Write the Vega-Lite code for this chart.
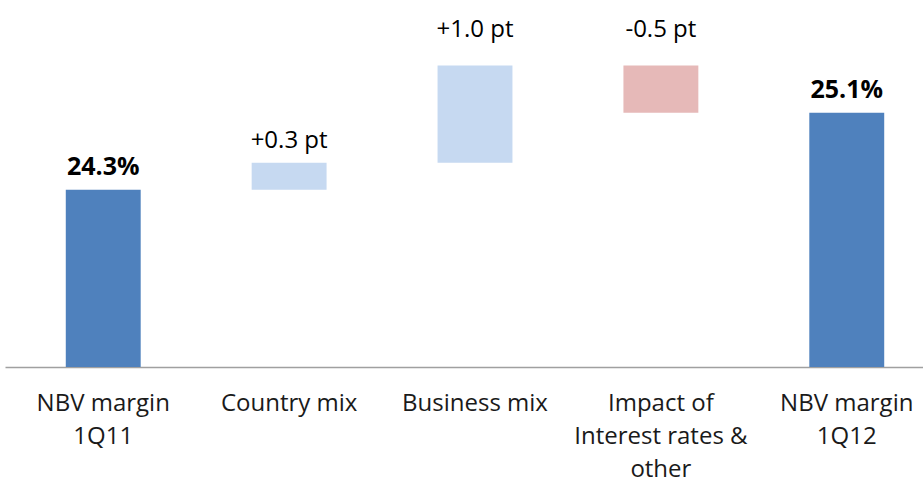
{
  "$schema": "https://vega.github.io/schema/vega-lite/v6.json",
  "autosize": {"type": "none"},
  "width": 923,
  "height": 367,
  "padding": {"left": 0, "top": 0, "right": 0, "bottom": 113},
  "background": "white",
  "config": {"view": {"stroke": null}, "font": "Open Sans"},
  "data": {
    "values": [
      {"step": "NBV margin 1Q11", "start": null, "end": 24.3, "kind": "total", "label": "24.3%"},
      {"step": "Country mix", "start": 24.3, "end": 24.58, "kind": "up", "label": "+0.3 pt"},
      {"step": "Business mix", "start": 24.58, "end": 25.59, "kind": "up", "label": "+1.0 pt"},
      {"step": "Impact of Interest rates & other", "start": 25.59, "end": 25.1, "kind": "down", "label": "-0.5 pt"},
      {"step": "NBV margin 1Q12", "start": null, "end": 25.1, "kind": "total", "label": "25.1%"}
    ]
  },
  "encoding": {
    "x": {
      "field": "step",
      "type": "nominal",
      "sort": ["NBV margin 1Q11", "Country mix", "Business mix", "Impact of Interest rates & other", "NBV margin 1Q12"],
      "scale": {"range": [5, 945], "paddingInner": 0.597, "paddingOuter": 0.327},
      "axis": {
        "title": null,
        "labelAngle": 0,
        "ticks": false,
        "domainColor": "#A0A0A0",
        "domainWidth": 1.5,
        "labelFontSize": 24,
        "labelColor": "#1a1a1a",
        "labelPadding": 24,
        "labelLineHeight": 33,
        "labelBaseline": "top",
        "labelLimit": 300,
        "labelExpr": "datum.value == 'NBV margin 1Q11' ? ['NBV margin', '1Q11'] : datum.value == 'NBV margin 1Q12' ? ['NBV margin', '1Q12'] : datum.value == 'Impact of Interest rates & other' ? ['Impact of', 'Interest rates &', 'other'] : datum.value"
      }
    }
  },
  "layer": [
    {
      "transform": [{"filter": "datum.kind == 'total'"}],
      "mark": {"type": "bar", "clip": true, "color": "#4F81BD"},
      "encoding": {
        "y": {"field": "end", "type": "quantitative", "scale": {"domain": [22.46, 26.27], "zero": false, "nice": false}, "axis": null}
      }
    },
    {
      "transform": [{"filter": "datum.kind != 'total'"}],
      "mark": {"type": "bar", "clip": true},
      "encoding": {
        "y": {"field": "start", "type": "quantitative", "scale": {"domain": [22.46, 26.27], "zero": false, "nice": false}, "axis": null},
        "y2": {"field": "end"},
        "color": {"field": "kind", "type": "nominal", "scale": {"domain": ["up", "down"], "range": ["#C6D9F1", "#E6B9B8"]}, "legend": null}
      }
    },
    {
      "transform": [{"filter": "datum.kind == 'total'"}],
      "mark": {"type": "text", "fontSize": 25, "fontWeight": "bold", "baseline": "alphabetic", "dy": -15, "color": "#000000"},
      "encoding": {
        "y": {"field": "end", "type": "quantitative"},
        "text": {"field": "label"}
      }
    },
    {
      "transform": [{"filter": "datum.step == 'Country mix'"}],
      "mark": {"type": "text", "fontSize": 24, "baseline": "alphabetic", "dy": -15, "color": "#000000"},
      "encoding": {
        "y": {"field": "end", "type": "quantitative"},
        "text": {"field": "label"}
      }
    },
    {
      "transform": [{"filter": "datum.step == 'Business mix'"}],
      "mark": {"type": "text", "fontSize": 24, "baseline": "alphabetic", "dy": -29, "color": "#000000"},
      "encoding": {
        "y": {"field": "end", "type": "quantitative"},
        "text": {"field": "label"}
      }
    },
    {
      "transform": [{"filter": "datum.kind == 'down'"}],
      "mark": {"type": "text", "fontSize": 24, "baseline": "alphabetic", "dy": -29, "color": "#000000"},
      "encoding": {
        "y": {"field": "start", "type": "quantitative"},
        "text": {"field": "label"}
      }
    }
  ]
}
